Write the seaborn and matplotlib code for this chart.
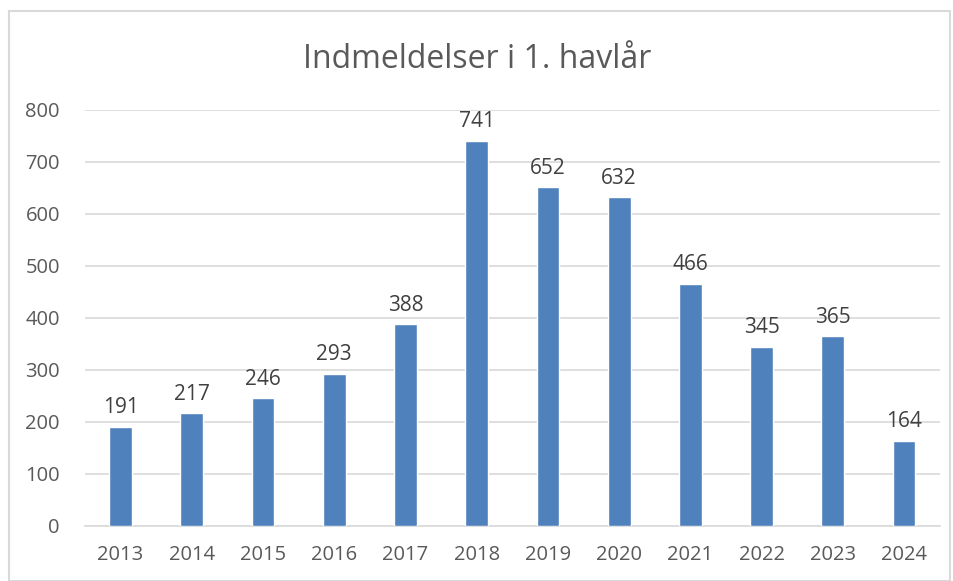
import matplotlib
matplotlib.use("Agg")
import matplotlib.pyplot as plt
import matplotlib.patches
import pandas as pd
import seaborn as sns

# data
years = ["2013", "2014", "2015", "2016", "2017", "2018",
         "2019", "2020", "2021", "2022", "2023", "2024"]
signups = [191, 217, 246, 293, 388, 741, 652, 632, 466, 345, 365, 164]
yticks = [0, 100, 200, 300, 400, 500, 600, 700, 800]
title = "Indmeldelser i 1. havlår"

sns.set_theme(style="white")
plt.rcParams["font.family"] = ["Open Sans", "DejaVu Sans"]

df = pd.DataFrame({"year": years, "n": signups})

fig = plt.figure(figsize=(9.54, 5.81), dpi=100)
ax = fig.add_axes([0.089, 0.0947, 0.896, 0.716])

sns.barplot(data=df, x="year", y="n", color="#4F81BD", saturation=1,
            width=0.32, ax=ax, zorder=3)

ax.set_xlim(-0.5, len(years) - 0.5)
ax.set_ylim(0, 800)
ax.set_yticks(yticks)
ax.yaxis.grid(True, color="#d9d9d9", linewidth=1.2, zorder=0)
ax.set_axisbelow(True)
for s in ["top", "right", "left"]:
    ax.spines[s].set_visible(False)
ax.spines["bottom"].set_color("#d9d9d9")
ax.spines["bottom"].set_linewidth(1.2)
ax.tick_params(axis="both", length=0, labelsize=14.5, labelcolor="#595959")
ax.tick_params(axis="x", pad=14)
ax.tick_params(axis="y", pad=18)
ax.set_xlabel("")
ax.set_ylabel("")

for i, v in enumerate(signups):
    ax.text(i, v + 16, str(v), ha="center", va="bottom",
            fontsize=15, color="#404040")

fig.text(0.5, 0.897, title, ha="center", va="center",
         fontsize=23, color="#595959")

# light frame around the chart, like an office chart object
fig.patches.append(matplotlib.patches.Rectangle(
    (9 / 954, 0.0), 941 / 954, 1 - 11 / 581, transform=fig.transFigure,
    fill=False, edgecolor="#d9d9d9", linewidth=1.5))

fig.savefig("out.png", dpi=100)
